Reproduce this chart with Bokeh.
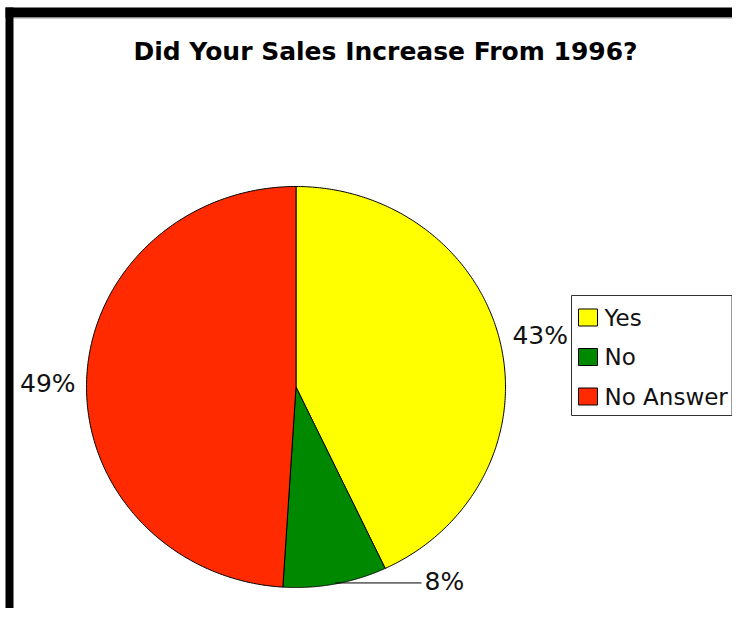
import numpy as np
from bokeh.plotting import figure
from bokeh.models import Range1d
from bokeh.core.properties import value
from bokeh.embed import file_html
from bokeh.resources import INLINE

# ---- data ----
title = "Did Your Sales Increase From 1996?"
categories = ["Yes", "No", "No Answer"]
shares = [43, 8, 49]
pct_labels = ["43%", "8%", "49%"]
colors = ["#FFFF00", "#008800", "#FF2A00"]

# ---- layout (reference pixel coordinates) ----
W, H = 732, 608
FONT = value("DejaVu Sans")

p = figure(width=W, height=H, x_range=Range1d(0, W), y_range=Range1d(H, 0),
           output_backend="svg", toolbar_location=None, min_border=0,
           x_axis_location=None, y_axis_location=None)
p.grid.visible = False
p.outline_line_color = None
p.background_fill_color = "white"
p.border_fill_color = "white"

# frame decorations (black bands)
p.quad(left=[5], right=[W], top=[7], bottom=[17], fill_color="black", line_color=None)
p.segment(x0=[13], x1=[W], y0=[17.5], y1=[17.5], line_color="#9a9a9a", line_width=1)
p.quad(left=[5], right=[13], top=[7], bottom=[H], fill_color="black", line_color=None)

# title
p.text(x=[385], y=[50.5], text=[title], text_align="center", text_baseline="middle",
       text_font=FONT, text_font_style="bold", text_font_size="25px", text_color="black")

# pie (slightly elliptical, clockwise from 12 o'clock)
cx, cy, rx, ry = 295.5, 386.5, 209.5, 200.5
frac = np.array(shares, dtype=float) / sum(shares)
ends = np.cumsum(frac) * 2 * np.pi
starts = ends - frac * 2 * np.pi
xs, ys = [], []
for a0, a1 in zip(starts, ends):
    t = np.linspace(a0, a1, 240)
    xs.append([cx] + list(cx + rx * np.sin(t)) + [cx])
    ys.append([cy] + list(cy - ry * np.cos(t)) + [cy])
p.patches(xs, ys, fill_color=colors, line_color="black", line_width=1)

# percentage labels
mids = (starts + ends) / 2
ex = cx + rx * np.sin(mids)
ey = cy - ry * np.cos(mids)
LBL = dict(text_baseline="middle", text_font=FONT, text_font_size="25px", text_color="#111111")
# Yes: right of pie
p.text(x=[ex[0] + 12], y=[ey[0] - 8], text=[pct_labels[0]], text_align="left", **LBL)
# No: leader line then label
p.segment(x0=[ex[1]], x1=[421], y0=[ey[1] - 1], y1=[ey[1] - 1], line_color="black", line_width=1)
p.text(x=[424], y=[ey[1] - 2.5], text=[pct_labels[1]], text_align="left", **LBL)
# No Answer: left of pie
p.text(x=[ex[2] - 11], y=[ey[2] + 3], text=[pct_labels[2]], text_align="right", **LBL)

# legend
lx0, lx1, ly0, ly1 = 571, 731.5, 295, 415
p.quad(left=[lx0], right=[lx1], top=[ly0], bottom=[ly1], fill_color="white", line_color="#333333", line_width=1)
row_y = [317, 356.5, 396]
p.quad(left=[lx0 + 7] * 3, right=[lx0 + 26] * 3, top=[y - 8.5 for y in row_y], bottom=[y + 8.5 for y in row_y],
       fill_color=colors, line_color="black", line_width=1)
p.text(x=[lx0 + 33] * 3, y=row_y, text=categories, text_align="left", text_baseline="middle",
       text_font=FONT, text_font_size="23px", text_color="#111111")

open("out.html", "w").write(file_html(p, INLINE))
